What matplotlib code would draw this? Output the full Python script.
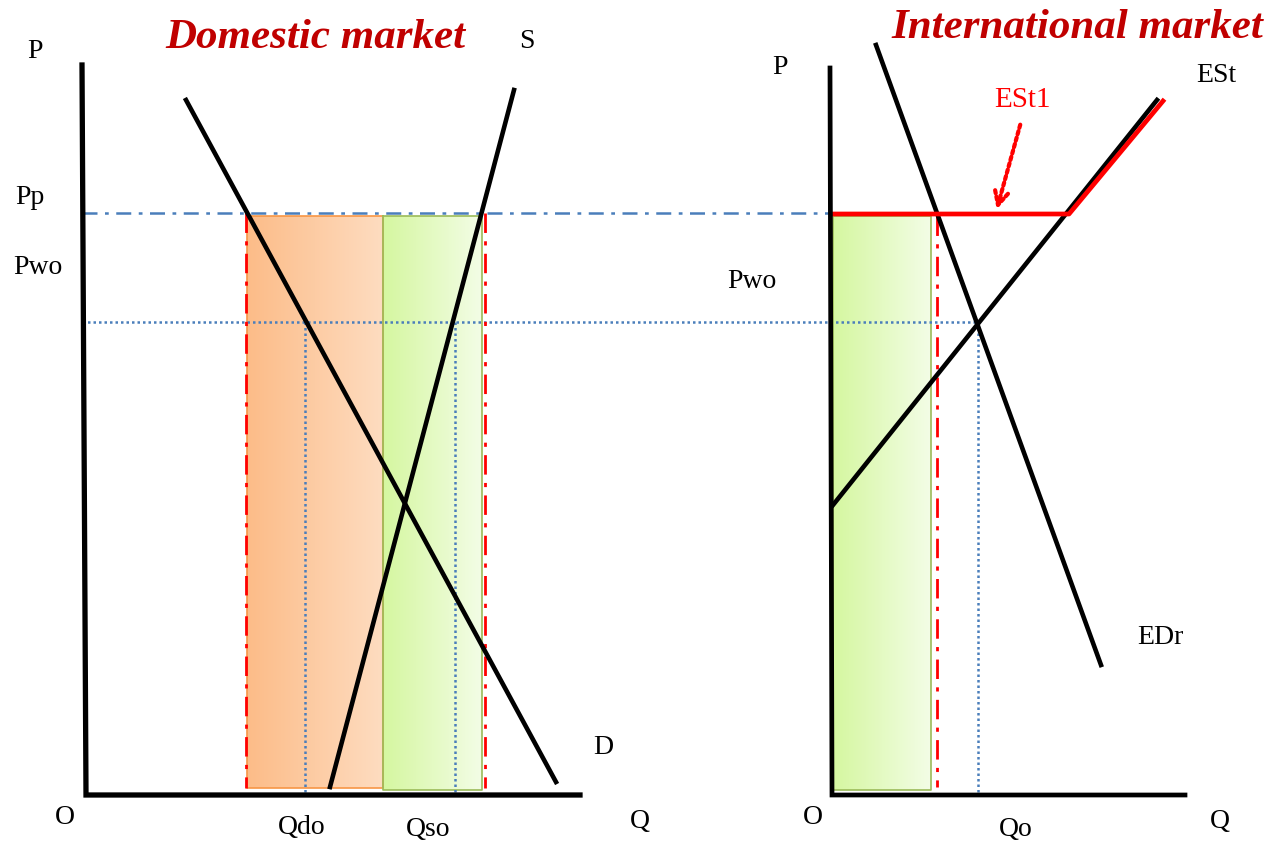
import numpy as np
import matplotlib.pyplot as plt
from matplotlib.colors import LinearSegmentedColormap

# Diagram coordinates (pixel space of the original slide, y grows downward)
# --- domestic market ---
dom_axis_x = [82, 86, 580]
dom_axis_y = [65, 795, 795]
demand_x = [186, 556]
demand_y = [100, 782]
supply_x = [514, 330]
supply_y = [90, 787]
pp_level = 213
pwo_level = 322
qdo, qso = 305, 455
orange_box = (247, 383, 216, 788)     # x0, x1, ytop, ybottom
green_box = (383, 482, 216, 790)
red_guides_dom = [246, 485]

# --- international market ---
int_axis_x = [830, 832, 1185]
int_axis_y = [68, 795, 795]
edr_x = [876, 1101]
edr_y = [45, 665]
est_x = [833, 1157]
est_y = [505, 100]
est1_x = [833, 1069, 1163]
est1_y = [214, 214, 101]
green_box_int = (833, 931, 216, 790)
red_guide_int = 937
qo = 978

labels = [
    ("P", 35, 52), ("Pp", 30, 197), ("Pwo", 38, 268), ("O", 65, 818),
    ("Qdo", 302, 827), ("Qso", 428, 830), ("Q", 640, 822), ("D", 603, 748),
    ("S", 527, 42),
    ("P", 780, 68), ("Pwo", 752, 282), ("O", 813, 818), ("Qo", 1016, 829),
    ("Q", 1220, 822), ("ESt", 1216, 75), ("EDr", 1160, 638),
]

plt.rcParams['font.family'] = ['Liberation Serif', 'DejaVu Serif']

fig = plt.figure(figsize=(12.87, 8.43), dpi=100)
ax = fig.add_axes([0, 0, 1, 1])


def gradient_box(box, c_left, c_right, edge):
    x0, x1, yt, yb = box
    cmap = LinearSegmentedColormap.from_list("g", [c_left, c_right])
    grad = np.linspace(0, 1, 256).reshape(1, -1)
    ax.imshow(grad, extent=[x0, x1, yb, yt], cmap=cmap, aspect='auto', zorder=1)
    ax.plot([x0, x1, x1, x0, x0], [yt, yt, yb, yb, yt], color=edge, lw=1.2, zorder=2)


# shaded areas
gradient_box(orange_box, "#fcbc88", "#fedcc0", "#f79646")
gradient_box(green_box, "#d5f7a0", "#f3fde6", "#9bbb59")
gradient_box(green_box_int, "#d5f7a0", "#f3fde6", "#9bbb59")

# guide lines
blue = "#4a7ebb"
ax.plot([82, est1_x[1]], [pp_level, pp_level], color=blue, lw=1.8, ls=(0, (6, 3, 1.5, 3)), zorder=3)
ax.plot([82, qo], [pwo_level, pwo_level], color=blue, lw=1.8, ls=(0, (1, 1.2)), zorder=3)
for q in [qdo, qso]:
    ax.plot([q, q], [pwo_level, 795], color=blue, lw=1.8, ls=(0, (1, 1.2)), zorder=3)
ax.plot([qo, qo], [pwo_level, 795], color=blue, lw=1.8, ls=(0, (1, 1.2)), zorder=3)

for x in red_guides_dom:
    ax.plot([x, x], [pp_level, 788], color="#ff0000", lw=2, ls=(0, (7, 3, 1.5, 3)), zorder=3)
ax.plot([red_guide_int, red_guide_int], [216, 787], color="#ff0000", lw=2,
        ls=(0, (7, 3, 1.5, 3)), zorder=3)

# axes
ax.plot(dom_axis_x, dom_axis_y, color="black", lw=3.8, zorder=5, solid_joinstyle='miter')
ax.plot(int_axis_x, int_axis_y, color="black", lw=3.4, zorder=5, solid_joinstyle='miter')

# curves
ax.plot(demand_x, demand_y, color="black", lw=3.3, zorder=4)
ax.plot(supply_x, supply_y, color="black", lw=3.3, zorder=4)
ax.plot(edr_x, edr_y, color="black", lw=3.3, zorder=4)
ax.plot(est_x, est_y, color="black", lw=3.3, zorder=4)
ax.plot(est1_x, est1_y, color="#ff0000", lw=3.4, zorder=4)

# dotted arrow to ESt1
ax.annotate("", xy=(996, 212), xytext=(1021, 122),
            arrowprops=dict(arrowstyle="->", color="#ff0000", lw=3,
                            ls=(0, (0.8, 0.8)), mutation_scale=24), zorder=6)
ax.text(1022, 100, "ESt1", color="#ff0000", fontsize=21, ha="center", va="center")

for txt, x, y in labels:
    ax.text(x, y, txt, fontsize=20, ha="center", va="center", color="black")

title_kw = dict(fontsize=31, fontweight="bold", fontstyle="italic", color="#c00000",
                ha="center", va="center")
ax.text(315, 38, "Domestic market", **title_kw)
ax.text(1077, 28, "International market", **title_kw)

ax.set_xlim(0, 1287)
ax.set_ylim(843, 0)
ax.axis("off")

fig.savefig("out.png", dpi=100)
